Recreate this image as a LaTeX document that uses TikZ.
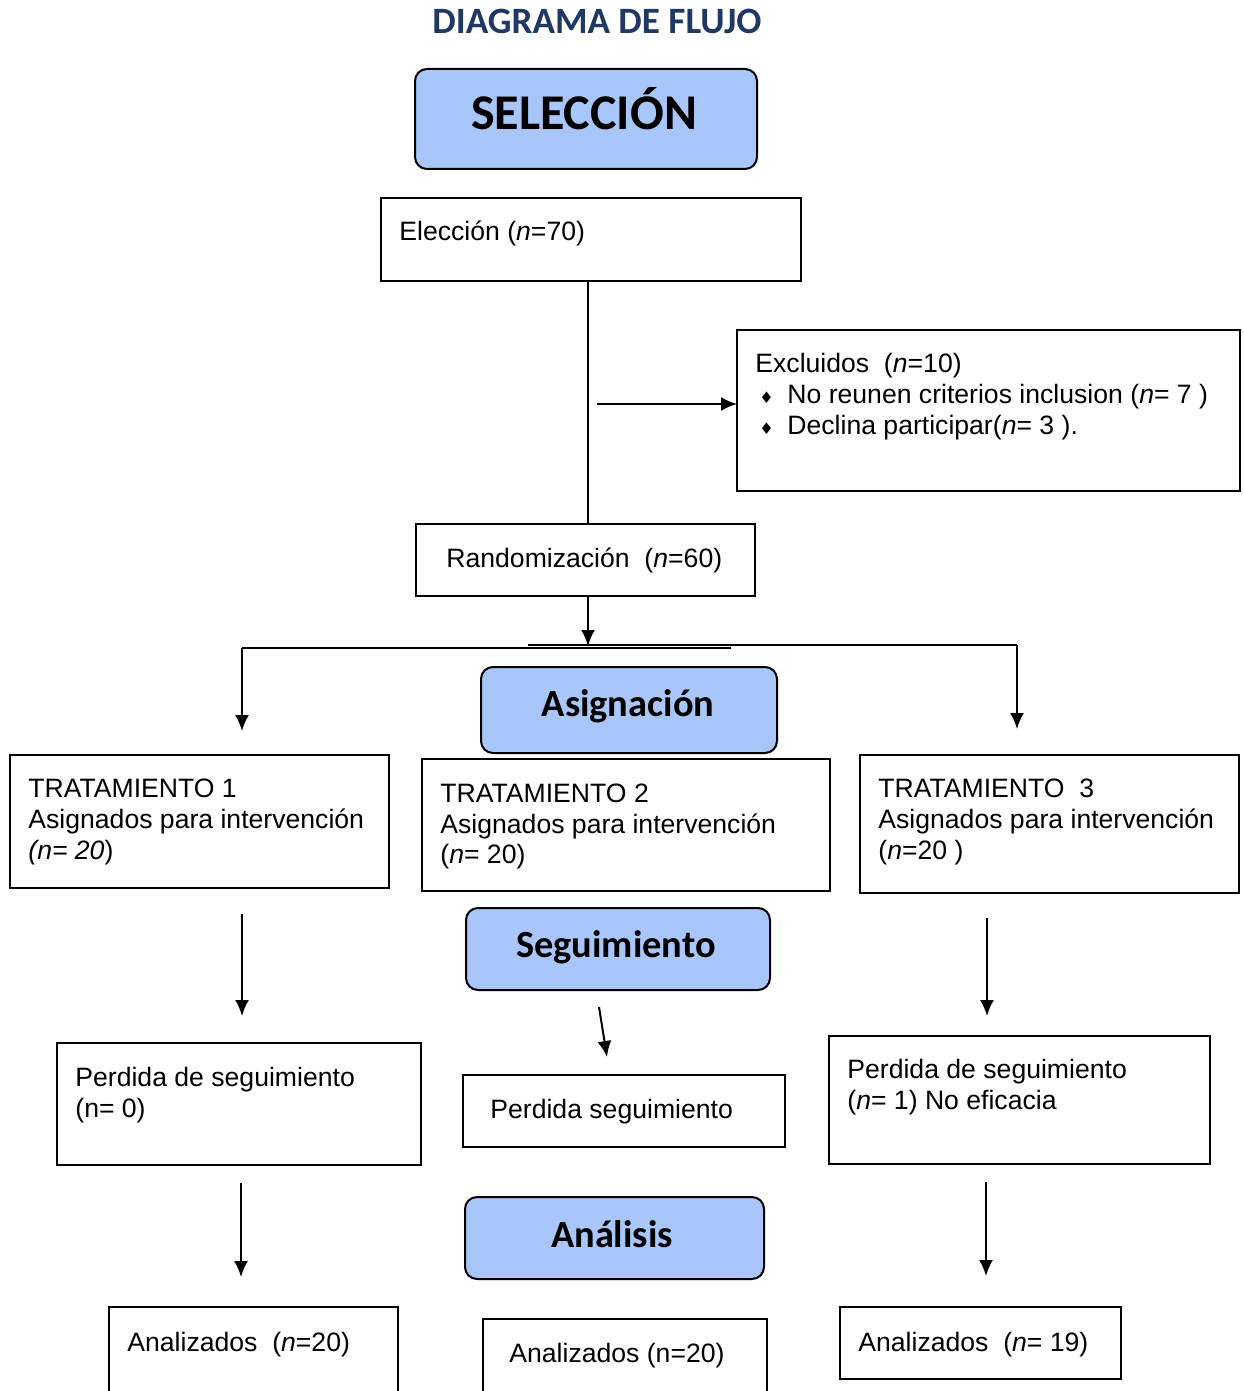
\documentclass[tikz,border=0pt]{standalone}
\usepackage{fontspec}
\setmainfont{Liberation Sans}
\newfontfamily\calibri{Carlito}
\newfontfamily\djv{DejaVu Sans}
\usetikzlibrary{arrows.meta}
\definecolor{hdrblue}{HTML}{A8C6FA}
\definecolor{titleblue}{HTML}{1F3864}
\newcommand\mkbox[6][plainbox]{\node[#1, minimum width={(#4-#2)*0.5pt}, minimum height={(#5-#3)*0.5pt}] (#6) at ({(#2+#4)/2},{(#3+#5)/2}) {};}
\newcommand\bul{\makebox[16pt][l]{\hspace{2pt}{\djv\fontsize{8}{8}\selectfont ♦}}}
\begin{document}
\begin{tikzpicture}[x=0.5pt,y=-0.5pt,
 plainbox/.style={draw, line width=1pt, inner sep=0pt, outer sep=0pt},
 hdrbox/.style={draw, line width=1pt, fill=hdrblue, rounded corners=6pt, inner sep=0pt, outer sep=0pt},
 txt/.style={anchor=base west, inner sep=0pt, font=\fontsize{13.3}{15.5}\selectfont},
 hdr/.style={anchor=base, inner sep=0pt, font=\calibri\bfseries\fontsize{19.2}{22}\selectfont},
 conn/.style={line width=1pt},
 arr/.style={conn, -{Latex[length=8pt,width=7pt]}}]
\useasboundingbox (0,0) rectangle (1243,1391);
\clip (0,0) rectangle (1243,1391);

% title
\node[hdr, font=\calibri\bfseries\fontsize{18.6}{22}\selectfont, text=titleblue] (title) at (597,34) {DIAGRAMA DE FLUJO};

% heading boxes
\mkbox[hdrbox]{415}{69}{757}{169}{selbox}
\node[hdr, font=\calibri\bfseries\fontsize{25}{30}\selectfont] (seltxt) at (584,130) {SELECCIÓN};
\mkbox[hdrbox]{481}{667}{777}{753}{asigbox}
\node[hdr] (asigtxt) at (628,716) {Asignación};
\mkbox[hdrbox]{466}{908}{770}{990}{segbox}
\node[hdr] (segtxt) at (616,957) {Seguimiento};
\mkbox[hdrbox]{465}{1197}{764}{1279}{analbox}
\node[hdr] (analtxt) at (612,1247) {Análisis};

% plain boxes
\mkbox{381}{198}{801}{281}{eleccion}
\node[txt] (eltxt) at (399,241) {Elección (\textit{n}=70)};

\mkbox{737}{330}{1240}{491}{excl}
\node[txt] (ex1) at (755,372) {Excluidos\ \ (\textit{n}=10)};
\node[txt] (ex2) at (755,403) {\bul No reunen criterios inclusion (\textit{n}= 7 )};
\node[txt] (ex3) at (755,434) {\bul Declina participar(\textit{n}= 3 ).};

\mkbox{416}{524}{755}{596}{random}
\node[txt] (rtxt) at (446,567) {Randomización\ \ (\textit{n}=60)};

\mkbox{10}{755}{389}{888}{t1}
\node[txt] (t1a) at (28,797) {TRATAMIENTO 1};
\node[txt] (t1b) at (28,828) {Asignados para intervención};
\node[txt] (t1c) at (28,859) {\textit{(n= 20})};

\mkbox{422}{759}{830}{891}{t2}
\node[txt] (t2a) at (440,802) {TRATAMIENTO 2};
\node[txt] (t2b) at (440,833) {Asignados para intervención};
\node[txt] (t2c) at (440,863) {(\textit{n}= 20)};

\mkbox{860}{755}{1239}{893}{t3}
\node[txt] (t3a) at (878,797) {TRATAMIENTO\ \ 3};
\node[txt] (t3b) at (878,828) {Asignados para intervención};
\node[txt] (t3c) at (878,859) {(\textit{n}=20 )};

\mkbox{57}{1043}{421}{1165}{p1}
\node[txt] (p1a) at (75,1086) {Perdida de seguimiento};
\node[txt] (p1b) at (75,1117) {(n= 0)};

\mkbox{463}{1075}{785}{1147}{p2}
\node[txt] (p2a) at (490,1118) {Perdida seguimiento};

\mkbox{829}{1036}{1210}{1164}{p3}
\node[txt] (p3a) at (847,1078) {Perdida de seguimiento};
\node[txt] (p3b) at (847,1109) {(\textit{n}= 1) No eficacia};

\mkbox{109}{1307}{398}{1420}{a1}
\node[txt] (a1t) at (127,1351) {Analizados\ \ (\textit{n}=20)};
\mkbox{483}{1319}{767}{1420}{a2}
\node[txt] (a2t) at (509,1362) {Analizados (n=20)};
\mkbox{840}{1307}{1121}{1379}{a3}
\node[txt] (a3t) at (858,1351) {Analizados\ \ (\textit{n}= 19)};

% connectors
\coordinate (c1) at (588,281);
\coordinate (c2) at (588,524);
\draw[conn] (c1) -- (c2);
\coordinate (xa) at (597,404);
\draw[arr] (xa) -- (excl.west |- xa);
\coordinate (r1) at (588,596);
\coordinate (r2) at (588,646);
\draw[arr] (r1) -- (r2);
\coordinate (hl1) at (242,648);
\coordinate (hl2) at (731,648);
\coordinate (hl3) at (528,645);
\coordinate (hl4) at (1017,645);
\coordinate (d1) at (242,731);
\coordinate (d3) at (1017,729);
\draw[conn] (hl2) -- (hl1);
\draw[arr] (hl1) -- (d1);
\draw[conn] (hl3) -- (hl4);
\draw[arr] (hl4) -- (d3);

\coordinate (f1a) at (242,914);
\coordinate (f1b) at (242,1016);
\draw[arr] (f1a) -- (f1b);
\coordinate (f2a) at (599,1007);
\coordinate (f2b) at (607,1057);
\draw[arr] (f2a) -- (f2b);
\coordinate (f3a) at (987,918);
\coordinate (f3b) at (987,1016);
\draw[arr] (f3a) -- (f3b);

\coordinate (g1a) at (241,1183);
\coordinate (g1b) at (241,1277);
\draw[arr] (g1a) -- (g1b);
\coordinate (g3a) at (986,1182);
\coordinate (g3b) at (986,1276);
\draw[arr] (g3a) -- (g3b);
\end{tikzpicture}
\end{document}
